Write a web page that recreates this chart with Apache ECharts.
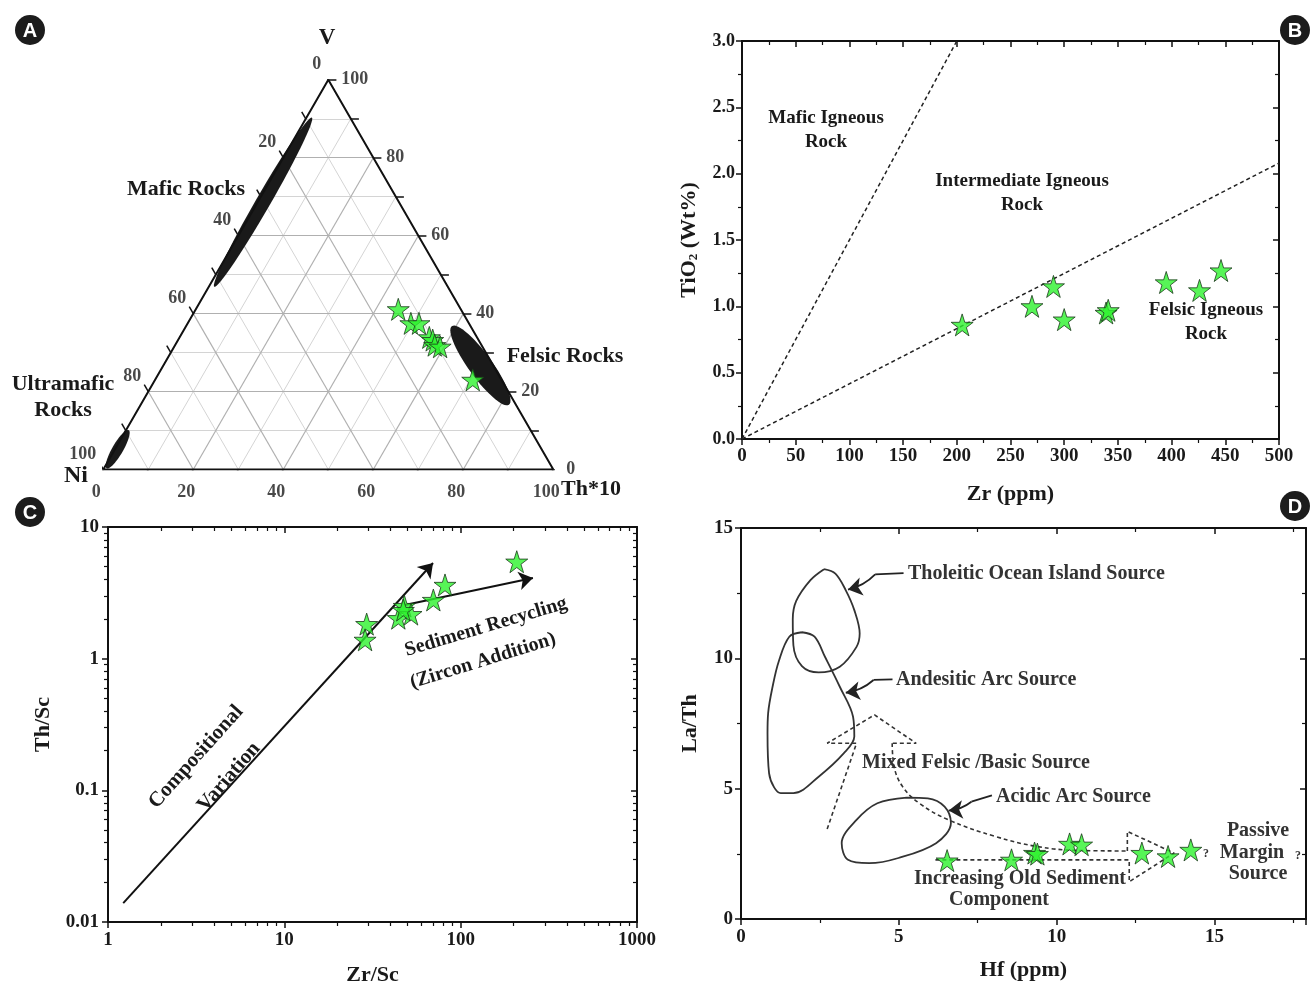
<!DOCTYPE html>
<html lang="en">
<head>
  <meta charset="UTF-8">
  <title>provenance-plots</title>
  <script src="https://cdn.jsdelivr.net/npm/echarts@6/dist/echarts.min.js"></script>
  <style>
    html, body {
      margin: 0;
      padding: 0;
      background: #fff;
    }

    #chart-main {
      width: 1314px;
      height: 988px;
    }
  </style>
</head>
<body>
<div id="chart-main"></div>

<script type="text/javascript">
  // ---- A: ternary V / Ni / Th*10 (percent) ----
  const ternNi = [13.9, 12.9, 11.1, 10.6, 10.2, 10.4, 9.4, 6.4]
  const ternV = [41.1, 37.5, 37.5, 33.9, 33.2, 31.9, 31.5, 23.0]
  const ternTh = [45.0, 49.6, 51.4, 55.5, 56.6, 57.7, 59.1, 70.6]
  const ternTicks = [0, 20, 40, 60, 80, 100]
  // fields: Ni, V, Th of centre, semi axes (in % units), angle
  const ternFields = [
    [30.2, 68.6, 1.2, 21.7, 1.6, 60],
    [2.85, 26.7, 70.45, 10.8, 2.6, -54],
    [94.2, 5.2, 0.6, 4.9, 1.2, 60]
  ]

  // ---- B: Zr vs TiO2 ----
  const zrB = [205, 270, 290, 300, 339, 341, 395, 426, 446]
  const tio2B = [0.86, 1.00, 1.15, 0.90, 0.95, 0.97, 1.18, 1.12, 1.27]
  const maficLineB = [[0, 0], [200, 3.0]]
  const felsicLineB = [[0, 0], [500, 2.08]]

  // ---- C: Zr/Sc vs Th/Sc ----
  const zrScC = [29.3, 28.7, 47.9, 44.3, 52.3, 47.3, 70, 81.5, 208]
  const thScC = [1.83, 1.39, 2.51, 2.03, 2.18, 2.34, 2.79, 3.63, 5.45]
  const compVarC = [[1.22, 0.0139], [69.7, 5.33]]
  const recycleC = [[48.3, 2.56], [257, 4.1]]

  // ---- D: Hf vs La/Th ----
  const hfD = [6.53, 8.57, 9.30, 9.39, 10.41, 10.79, 12.70, 13.53, 14.25]
  const laThD = [2.24, 2.27, 2.53, 2.49, 2.88, 2.85, 2.53, 2.40, 2.65]
  const tholeiiticCurve = [[2.63, 13.42], [2.2, 13.0], [1.75, 12.2], [1.64, 11.5], [1.66, 10.5], [1.93, 9.7],
    [2.46, 9.46], [3.13, 9.68], [3.66, 10.44], [3.76, 10.95], [3.59, 11.85], [3.32, 12.61], [2.99, 13.25], [2.63, 13.42]]
  const andesiticCurve = [[1.93, 11.0], [1.53, 10.83], [1.2, 9.9], [1.0, 8.91], [0.86, 7.9], [0.84, 7.12], [0.89, 5.59],
    [1.05, 5.05], [1.26, 4.83], [1.66, 4.83], [2.46, 5.46], [3.26, 6.36], [3.59, 7.0], [3.55, 7.76], [3.13, 8.91],
    [2.66, 10.06], [2.33, 10.83], [1.93, 11.0]]
  const acidicCurve = [[5.25, 4.66], [4.32, 4.44], [3.66, 3.80], [3.19, 2.91], [3.39, 2.27], [4.06, 2.14], [4.99, 2.34],
    [6.18, 2.91], [6.65, 3.68], [6.45, 4.31], [5.92, 4.63], [5.25, 4.66]]
  const mixedArrowHead = [[2.73, 3.45], [3.66, 6.74], [2.73, 6.74], [4.23, 7.83], [5.55, 6.74], [4.79, 6.74]]
  const mixedCurve = [[4.79, 6.74], [4.85, 5.85], [5.12, 5.08], [5.65, 4.44], [6.58, 3.80], [8.05, 3.17], [9.38, 2.78],
    [10.7, 2.63], [12.24, 2.61]]
  const sedimentArrow = [[12.24, 2.61], [12.24, 3.36], [13.72, 2.53], [12.30, 1.43], [12.30, 2.27], [6.16, 2.27]]
  const leadersD = [
    [[5.15, 13.27], [4.25, 13.22], [3.39, 12.64]],
    [[4.8, 9.19], [4.2, 9.17], [3.32, 8.68]],
    [[7.95, 4.74], [7.3, 4.5], [6.58, 4.16]]
  ]

  const serif = 'Liberation Serif'
  const STAR = 'path://M50,2 L61.8,38.2 L99.9,38.2 L69.1,60.6 L80.9,96.8 L50,74.4 L19.1,96.8 L30.9,60.6 L0.1,38.2 L38.2,38.2 Z'
  const SQ3 = Math.sqrt(3) / 2

  function toXY(ni, v, th) {
    const s = ni + v + th
    v = v / s * 100
    th = th / s * 100
    return [th + v / 2, v * SQ3]
  }

  let echartItem = echarts.init(document.getElementById('chart-main'))

  // ternary grid lines and edge ticks
  let gridMajor = [], gridMinor = [], ternTickLines = []
  for (let k = 10; k < 100; k += 10) {
    let segs = [
      [toXY(100 - k, k, 0), toXY(0, k, 100 - k)],
      [toXY(100 - k, 0, k), toXY(0, 100 - k, k)],
      [toXY(k, 100 - k, 0), toXY(k, 0, 100 - k)]
    ]
    segs.forEach(s => (k % 20 === 0 ? gridMajor : gridMinor).push({coords: s}))
  }
  const tl = 1.8
  for (let k = 0; k <= 100; k += 10) {
    let b = toXY(100 - k, 0, k)
    ternTickLines.push({coords: [b, [b[0] - 0.5 * tl, b[1] - SQ3 * tl]]})
    let r = toXY(0, k, 100 - k)
    ternTickLines.push({coords: [r, [r[0] + tl, r[1]]]})
    let l = toXY(k, 100 - k, 0)
    ternTickLines.push({coords: [l, [l[0] - 0.5 * tl, l[1] + SQ3 * tl]]})
  }
  const edge = [toXY(100, 0, 0), toXY(0, 0, 100), toXY(0, 100, 0), toXY(100, 0, 0)]

  function tickFont(size) {
    return {fontFamily: serif, fontWeight: 'bold', fontSize: size, color: '#1a1a1a'}
  }
  const nameFont = {fontFamily: serif, fontWeight: 'bold', fontSize: 22, color: '#1a1a1a'}

  function frameAxis(gridIndex, position, opts, minorSplit, labelSize) {
    const mirror = position === 'top' || position === 'right'
    return Object.assign({
      gridIndex: gridIndex,
      position: position,
      type: 'value',
      axisLine: {show: true, onZero: false, lineStyle: {color: '#111', width: 2}},
      axisTick: {show: true, inside: mirror, length: 6, lineStyle: {color: '#111', width: 1.5}},
      minorTick: {show: true, splitNumber: minorSplit || 2, length: 4, lineStyle: {color: '#111', width: 1.2}},
      axisLabel: mirror ? {show: false} : Object.assign({margin: 8}, tickFont(labelSize || 19)),
      splitLine: {show: false},
      minorSplitLine: {show: false}
    }, opts)
  }

  const stars = {
    symbol: STAR,
    symbolSize: 22,
    itemStyle: {color: '#2df22d', borderColor: '#1b3a1b', borderWidth: 1},
    z: 10
  }

  function ternLabels(points, labelOpt) {
    return {
      type: 'scatter', xAxisIndex: 0, yAxisIndex: 0, symbolSize: 0.1,
      data: points,
      label: Object.assign({
        show: true,
        formatter: p => ternTicks[p.dataIndex],
        fontFamily: serif, fontWeight: 'bold', fontSize: 18, color: '#1a1a1a'
      }, labelOpt)
    }
  }

  function badge(x, y, letter) {
    return {
      type: 'group', x: x, y: y, silent: true,
      children: [
        {type: 'circle', shape: {cx: 0, cy: 0, r: 15}, style: {fill: '#1c1c1c'}},
        {type: 'text', x: 0, y: 1, style: {text: letter, fontFamily: 'Liberation Sans', fontWeight: 'bold',
            fontSize: 20, fill: '#fff', align: 'center', verticalAlign: 'middle'}}
      ]
    }
  }

  function txt(text, x, y, size, extra) {
    extra = extra || {}
    return {
      type: 'text', x: x, y: y, silent: true, rotation: extra.rotation || 0,
      style: {text: text, fontFamily: serif, fontWeight: 'bold', fontSize: size, fill: extra.fill || '#1a1a1a',
        align: extra.align || 'center', verticalAlign: 'middle'}
    }
  }

  const dashD = {color: '#333', width: 1.6, type: [4, 3]}
  const logLabel = Object.assign({margin: 9, formatter: v => String(v)}, tickFont(19))

  let option = {
    animation: false,
    backgroundColor: '#fff',
    grid: [
      {left: 103.3, top: 79.8, width: 450, height: 389.7, outerBoundsMode: 'none'},
      {left: 742, top: 41, width: 537, height: 398, outerBoundsMode: 'none'},
      {left: 108, top: 527, width: 529, height: 395, outerBoundsMode: 'none'},
      {left: 741, top: 528, width: 565, height: 391, outerBoundsMode: 'none'}
    ],
    xAxis: [
      {gridIndex: 0, type: 'value', min: 0, max: 100, show: false},
      frameAxis(1, 'bottom', {min: 0, max: 500, interval: 50, name: 'Zr (ppm)', nameLocation: 'middle',
        nameGap: 44, nameTextStyle: nameFont}, 2, 19),
      frameAxis(1, 'top', {min: 0, max: 500, interval: 50}),
      frameAxis(2, 'bottom', {type: 'log', logBase: 10, min: 1, max: 1000, name: 'Zr/Sc', nameLocation: 'middle',
        nameGap: 42, nameTextStyle: nameFont, axisLabel: logLabel}, 9),
      frameAxis(2, 'top', {type: 'log', logBase: 10, min: 1, max: 1000}, 9),
      frameAxis(3, 'bottom', {min: 0, max: 17.9, interval: 5, name: 'Hf (ppm)', nameLocation: 'middle',
        nameGap: 40, nameTextStyle: nameFont, axisLabel: Object.assign({margin: 9, showMaxLabel: false}, tickFont(19))}),
      frameAxis(3, 'top', {min: 0, max: 17.9, interval: 5})
    ],
    yAxis: [
      {gridIndex: 0, type: 'value', min: 0, max: 100 * SQ3, show: false},
      frameAxis(1, 'left', {
        min: 0, max: 3, interval: 0.5, name: '{a|TiO}{s|2}{a| (Wt%)}', nameLocation: 'middle', nameGap: 42,
        nameTextStyle: {
          rich: {
            a: nameFont,
            s: {fontFamily: serif, fontWeight: 'bold', fontSize: 13, color: '#1a1a1a', verticalAlign: 'bottom', padding: [9, 0, 0, 0]}
          }
        },
        axisLabel: Object.assign({margin: 7, formatter: v => v.toFixed(1)}, tickFont(18))
      }),
      frameAxis(1, 'right', {min: 0, max: 3, interval: 0.5}),
      frameAxis(2, 'left', {type: 'log', logBase: 10, min: 0.01, max: 10, name: 'Th/Sc', nameLocation: 'middle',
        nameGap: 54, nameTextStyle: nameFont, axisLabel: logLabel}, 9),
      frameAxis(2, 'right', {type: 'log', logBase: 10, min: 0.01, max: 10}, 9),
      frameAxis(3, 'left', {min: 0, max: 15, interval: 5, name: 'La/Th', nameLocation: 'middle',
        nameGap: 40, nameTextStyle: nameFont}),
      frameAxis(3, 'right', {min: 0, max: 15, interval: 5})
    ],
    series: [
      // ---- A ----
      {type: 'lines', coordinateSystem: 'cartesian2d', xAxisIndex: 0, yAxisIndex: 0, data: gridMinor,
        lineStyle: {color: '#d4d4d4', width: 1, opacity: 1}, silent: true},
      {type: 'lines', coordinateSystem: 'cartesian2d', xAxisIndex: 0, yAxisIndex: 0, data: gridMajor,
        lineStyle: {color: '#b0b0b0', width: 1.2, opacity: 1}, silent: true},
      {type: 'lines', coordinateSystem: 'cartesian2d', xAxisIndex: 0, yAxisIndex: 0, data: ternTickLines,
        lineStyle: {color: '#111', width: 1.5, opacity: 1}, silent: true},
      {
        type: 'custom', xAxisIndex: 0, yAxisIndex: 0, silent: true, z: 4,
        data: ternFields.map(f => toXY(f[0], f[1], f[2]).concat([f[3], f[4], f[5]])),
        encode: {x: 0, y: 1},
        renderItem: function (params, api) {
          const cx = api.value(0), cy = api.value(1), a = api.value(2), b = api.value(3)
          const ang = api.value(4) * Math.PI / 180
          let pts = []
          for (let i = 0; i < 60; i++) {
            const t = i / 60 * Math.PI * 2
            const ex = a * Math.cos(t), ey = b * Math.sin(t)
            pts.push(api.coord([cx + ex * Math.cos(ang) - ey * Math.sin(ang), cy + ex * Math.sin(ang) + ey * Math.cos(ang)]))
          }
          return {type: 'polygon', shape: {points: pts}, style: {fill: '#1a1a1a'}}
        }
      },
      {type: 'line', xAxisIndex: 0, yAxisIndex: 0, data: edge, symbol: 'none',
        lineStyle: {color: '#111', width: 2}, z: 5, silent: true},
      ternLabels(ternTicks.map(k => toXY(100 - k, 0, k)), {position: 'inside', offset: [-7, 23]}),
      ternLabels(ternTicks.map(k => toXY(0, k, 100 - k)), {position: 'right', distance: 13}),
      ternLabels(ternTicks.map(k => toXY(k, 100 - k, 0)), {position: 'inside', align: 'right', offset: [-7, -15]}),
      Object.assign({type: 'scatter', xAxisIndex: 0, yAxisIndex: 0,
        data: ternNi.map((n, i) => toXY(n, ternV[i], ternTh[i]))}, stars),

      // ---- B ----
      {type: 'line', xAxisIndex: 1, yAxisIndex: 1, data: maficLineB, symbol: 'none',
        lineStyle: {color: '#222', width: 1.5, type: [4, 3]}},
      {type: 'line', xAxisIndex: 1, yAxisIndex: 1, data: felsicLineB, symbol: 'none',
        lineStyle: {color: '#222', width: 1.5, type: [4, 3]}},
      Object.assign({type: 'scatter', xAxisIndex: 1, yAxisIndex: 1,
        data: zrB.map((z, i) => [z, tio2B[i]])}, stars),

      // ---- C ----
      {type: 'lines', coordinateSystem: 'cartesian2d', xAxisIndex: 3, yAxisIndex: 3,
        symbol: ['none', 'arrow'], symbolSize: 14,
        data: [{coords: compVarC}, {coords: recycleC}],
        lineStyle: {color: '#111', width: 2, opacity: 1}, z: 5, silent: true},
      Object.assign({type: 'scatter', xAxisIndex: 3, yAxisIndex: 3,
        data: zrScC.map((z, i) => [z, thScC[i]])}, stars),

      // ---- D ----
      {type: 'line', xAxisIndex: 5, yAxisIndex: 5, data: tholeiiticCurve, symbol: 'none', smooth: 0.35,
        lineStyle: {color: '#333', width: 1.8}},
      {type: 'line', xAxisIndex: 5, yAxisIndex: 5, data: andesiticCurve, symbol: 'none', smooth: 0.35,
        lineStyle: {color: '#333', width: 1.8}},
      {type: 'line', xAxisIndex: 5, yAxisIndex: 5, data: acidicCurve, symbol: 'none', smooth: 0.35,
        lineStyle: {color: '#333', width: 1.8}},
      {type: 'line', xAxisIndex: 5, yAxisIndex: 5, data: mixedArrowHead, symbol: 'none', lineStyle: dashD},
      {type: 'line', xAxisIndex: 5, yAxisIndex: 5, data: mixedCurve, symbol: 'none', smooth: 0.4, lineStyle: dashD},
      {type: 'line', xAxisIndex: 5, yAxisIndex: 5, data: sedimentArrow, symbol: 'none', lineStyle: dashD},
      {type: 'lines', coordinateSystem: 'cartesian2d', xAxisIndex: 5, yAxisIndex: 5, symbol: 'none',
        data: leadersD.map(l => ({coords: [l[0], l[1]]})),
        lineStyle: {color: '#222', width: 1.8, opacity: 1}, silent: true},
      {type: 'lines', coordinateSystem: 'cartesian2d', xAxisIndex: 5, yAxisIndex: 5,
        symbol: ['none', 'arrow'], symbolSize: [9, 14],
        data: leadersD.map(l => ({coords: [l[1], l[2]]})),
        lineStyle: {color: '#222', width: 1.8, opacity: 1, curveness: 0.15}, silent: true},
      Object.assign({type: 'scatter', xAxisIndex: 5, yAxisIndex: 5,
        data: hfD.map((h, i) => [h, laThD[i]])}, stars)
    ],
    graphic: [
      badge(30, 30, 'A'), badge(1295, 30, 'B'), badge(30, 512, 'C'), badge(1295, 506, 'D'),
      // A
      txt('V', 327, 38, 23), txt('Ni', 76, 476, 24), txt('Th*10', 591, 489, 22),
      txt('Mafic Rocks', 186, 189, 22), txt('Felsic Rocks', 565, 356, 22),
      txt('Ultramafic', 63, 384, 22), txt('Rocks', 63, 410, 22),
      // B
      txt('Mafic Igneous', 826, 118, 19), txt('Rock', 826, 142, 19),
      txt('Intermediate Igneous', 1022, 181, 19), txt('Rock', 1022, 205, 19),
      txt('Felsic Igneous', 1206, 310, 19), txt('Rock', 1206, 334, 19),
      // C
      txt('Sediment Recycling', 486, 627, 20, {rotation: 0.29}),
      txt('(Zircon Addition)', 483, 661, 20, {rotation: 0.3}),
      txt('Compositional', 196, 757, 21, {rotation: 0.84}),
      txt('Variation', 229, 777, 21, {rotation: 0.86}),
      // D
      txt('Tholeitic Ocean Island Source', 908, 574, 20, {align: 'left', fill: '#333'}),
      txt('Andesitic Arc Source', 896, 680, 20, {align: 'left', fill: '#333'}),
      txt('Mixed Felsic /Basic Source', 862, 763, 20, {align: 'left', fill: '#333'}),
      txt('Acidic Arc Source', 996, 797, 20, {align: 'left', fill: '#333'}),
      txt('Increasing Old Sediment', 1020, 879, 20, {fill: '#333'}),
      txt('Component', 999, 900, 20, {fill: '#333'}),
      txt('Passive', 1258, 831, 20, {fill: '#333'}),
      txt('Margin', 1252, 853, 20, {fill: '#333'}),
      txt('?', 1298, 856, 12, {fill: '#333'}),
      txt('Source', 1258, 874, 20, {fill: '#333'}),
      txt('?', 1206, 854, 12, {fill: '#333'})
    ]
  }

  echartItem.setOption(option)
</script>
</body>
</html>
